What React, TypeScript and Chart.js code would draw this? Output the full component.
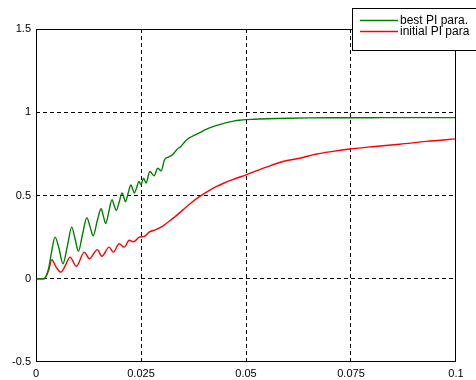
import React, { useEffect, useRef } from "react";
import { Chart, registerables } from "chart.js";

Chart.register(...registerables);

const bestTimes = [
  0, 0.0019, 0.003, 0.0037, 0.00453, 0.0055, 0.0064, 0.0075, 0.0085, 0.0093, 0.0101, 0.0111, 0.0121,
  0.0129, 0.0136, 0.0146, 0.0155, 0.0161, 0.0166, 0.0174, 0.0181, 0.0186, 0.0191, 0.0198, 0.0205,
  0.0209, 0.0213, 0.022, 0.0226, 0.023, 0.0234, 0.024, 0.0245, 0.025, 0.0256, 0.0262, 0.0271, 0.0281,
  0.029, 0.0298, 0.0306, 0.0315, 0.0325, 0.0335, 0.0345, 0.0355, 0.0365, 0.0377, 0.0389, 0.0401,
  0.0413, 0.0425, 0.0437, 0.0449, 0.0461, 0.0473, 0.0484, 0.05, 0.052, 0.055, 0.06, 0.065, 0.07,
  0.075, 0.08, 0.085, 0.09, 0.095, 0.1,
];
const bestValues = [
  0, 0, 0.06, 0.16, 0.25, 0.18, 0.09, 0.2, 0.31, 0.24, 0.165, 0.27, 0.366,
  0.31, 0.258, 0.35, 0.42, 0.37, 0.332, 0.41, 0.475, 0.44, 0.41, 0.46, 0.515,
  0.49, 0.463, 0.52, 0.563, 0.54, 0.515, 0.55, 0.585, 0.565, 0.604, 0.575, 0.644, 0.618,
  0.664, 0.648, 0.715, 0.73, 0.745, 0.775, 0.795, 0.825, 0.846, 0.862, 0.876, 0.892,
  0.906, 0.917, 0.926, 0.935, 0.942, 0.948, 0.952, 0.956, 0.958, 0.961, 0.964, 0.966, 0.967,
  0.967, 0.967, 0.968, 0.968, 0.968, 0.968,
];

const initialTimes = [
  0, 0.0019, 0.003, 0.00375, 0.0048, 0.0059, 0.007, 0.0081, 0.0096, 0.0115, 0.0127, 0.0146, 0.0157,
  0.0174, 0.0184, 0.0198, 0.021, 0.0222, 0.0232, 0.0246, 0.0258, 0.027, 0.0285, 0.0301, 0.031, 0.033,
  0.0349, 0.0369, 0.0389, 0.0409, 0.0429, 0.0448, 0.0468, 0.05, 0.0548, 0.0588, 0.0628, 0.0668,
  0.0707, 0.0747, 0.08, 0.0866, 0.093, 0.1,
];
const initialValues = [
  0, 0, 0.05, 0.114, 0.07, 0.04, 0.08, 0.13, 0.075, 0.16, 0.12, 0.175, 0.135,
  0.19, 0.16, 0.21, 0.19, 0.231, 0.222, 0.25, 0.255, 0.281, 0.295, 0.315, 0.332, 0.37,
  0.412, 0.455, 0.493, 0.525, 0.553, 0.575, 0.595, 0.624, 0.67, 0.704, 0.724, 0.749,
  0.765, 0.779, 0.793, 0.808, 0.825, 0.84,
];

const xTicks = [0, 0.025, 0.05, 0.075, 0.1];
const xTickLabels = ["0", "0.025", "0.05", "0.075", "0.1"];
const yTicks = [-0.5, 0, 0.5, 1, 1.5];
const yTickLabels = ["-0.5", "0", "0.5", "1", "1.5"];
const seriesNames = ["best PI para.", "initial PI para"];
const seriesColors = ["#008000", "#ff0000"];

const FONT = "'Liberation Sans', Arial, sans-serif";

const boxAndLegend = {
  id: "boxAndLegend",
  afterDraw(chart: any) {
    const { ctx, chartArea } = chart;
    const { left, top, right, bottom } = chartArea;
    ctx.save();
    ctx.strokeStyle = "#000";
    ctx.lineWidth = 1;
    ctx.setLineDash([]);
    ctx.strokeRect(left + 0.5, top + 0.5, right - left - 1, bottom - top - 1);

    // legend box
    const lx = 352.5;
    const ly = 8.5;
    ctx.fillStyle = "#fff";
    ctx.fillRect(lx, ly, 140, 42);
    ctx.strokeRect(lx, ly, 140, 42);
    ctx.font = `12px ${FONT}`;
    ctx.textBaseline = "middle";
    ctx.textAlign = "left";
    const rows = [20.5, 31.5];
    seriesNames.forEach((name, i) => {
      ctx.strokeStyle = seriesColors[i];
      ctx.lineWidth = 1.3;
      ctx.beginPath();
      ctx.moveTo(360, rows[i]);
      ctx.lineTo(398, rows[i]);
      ctx.stroke();
      ctx.fillStyle = "#000";
      ctx.fillText(name, 400, rows[i]);
    });
    ctx.restore();
  },
};

export default function App() {
  const ref = useRef<HTMLCanvasElement | null>(null);

  useEffect(() => {
    if (!ref.current) return;
    const chart = new Chart(ref.current, {
      type: "line",
      data: {
        datasets: [
          {
            label: seriesNames[0],
            data: bestTimes.map((t, i) => ({ x: t, y: bestValues[i] })),
            borderColor: seriesColors[0],
            borderWidth: 1.4,
            pointRadius: 0,
            cubicInterpolationMode: "monotone",
            fill: false,
          },
          {
            label: seriesNames[1],
            data: initialTimes.map((t, i) => ({ x: t, y: initialValues[i] })),
            borderColor: seriesColors[1],
            borderWidth: 1.4,
            pointRadius: 0,
            cubicInterpolationMode: "monotone",
            fill: false,
          },
        ],
      },
      options: {
        animation: false,
        responsive: false,
        devicePixelRatio: 1,
        layout: { padding: { top: 29, right: 20, left: 0, bottom: 0 } },
        plugins: { legend: { display: false }, tooltip: { enabled: false } },
        scales: {
          x: {
            type: "linear",
            min: 0,
            max: 0.1,
            afterFit: (s: any) => {
              s.height = 18;
            },
            afterBuildTicks: (s: any) => {
              s.ticks = xTicks.map((v) => ({ value: v }));
            },
            ticks: {
              autoSkip: false,
              maxRotation: 0,
              padding: 5,
              color: "#000",
              font: { family: FONT, size: 11 },
              callback: (v: any) => {
                const i = xTicks.indexOf(Number(v));
                return i >= 0 ? xTickLabels[i] : "";
              },
            },
            grid: {
              drawTicks: false,
              color: (c: any) =>
                c.tick && (c.tick.value === 0 || c.tick.value === 0.1) ? "rgba(0,0,0,0)" : "#000",
              lineWidth: 1,
            },
            border: { display: false, dash: [4, 3] },
          },
          y: {
            type: "linear",
            min: -0.5,
            max: 1.5,
            afterFit: (s: any) => {
              s.width = 36;
            },
            afterBuildTicks: (s: any) => {
              s.ticks = yTicks.map((v) => ({ value: v }));
            },
            ticks: {
              autoSkip: false,
              padding: 5,
              color: "#000",
              font: { family: FONT, size: 11 },
              callback: (v: any) => {
                const i = yTicks.indexOf(Number(v));
                return i >= 0 ? yTickLabels[i] : "";
              },
            },
            grid: {
              drawTicks: false,
              color: (c: any) =>
                c.tick && (c.tick.value === -0.5 || c.tick.value === 1.5) ? "rgba(0,0,0,0)" : "#000",
              lineWidth: 1,
            },
            border: { display: false, dash: [4, 3] },
          },
        },
      },
      plugins: [boxAndLegend],
    });
    return () => chart.destroy();
  }, []);

  return (
    <div style={{ position: "fixed", left: 0, top: 0, width: 476, height: 380, background: "#fff" }}>
      <canvas ref={ref} width={476} height={380} style={{ display: "block" }} />
    </div>
  );
}
